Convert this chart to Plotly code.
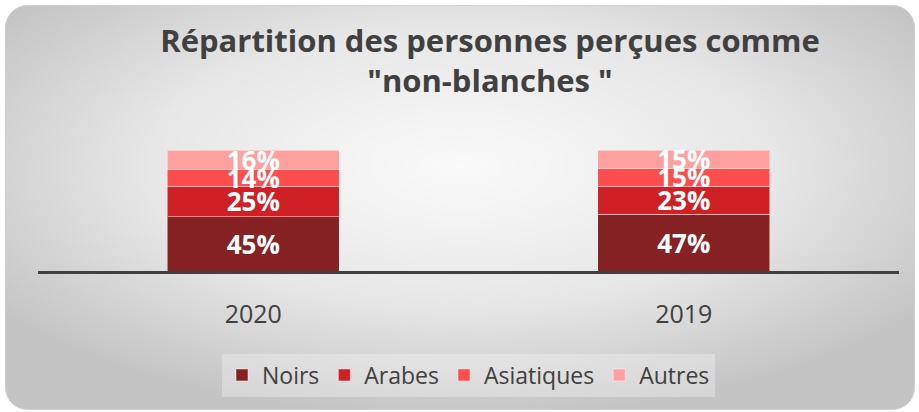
import base64
import plotly.graph_objects as go

categories = ["2020", "2019"]
series_names = ["Noirs", "Arabes", "Asiatiques", "Autres"]
noirs = [45, 47]
arabes = [25, 23]
asiatiques = [14, 15]
autres = [16, 15]
series_values = [noirs, arabes, asiatiques, autres]
colors = ["#862224", "#CF2125", "#FE4D4E", "#FFA0A0"]

W, H = 919, 412
L, R, T, B = 38, 20, 150, 141
pw, ph = W - L - R, H - T - B

svg = f'''<svg xmlns="http://www.w3.org/2000/svg" width="{W}" height="{H}" viewBox="0 0 {W} {H}" preserveAspectRatio="none">
<defs><radialGradient id="g" cx="50%" cy="40%" r="62%" fx="50%" fy="40%">
<stop offset="0%" stop-color="#FAFAFA"/><stop offset="55%" stop-color="#E7E7E7"/><stop offset="100%" stop-color="#C4C4C4"/>
</radialGradient></defs>
<rect x="5.5" y="5.5" width="909" height="404" rx="22" ry="22" fill="url(#g)" stroke="#D0D0D0" stroke-width="1"/>
</svg>'''
src = "data:image/svg+xml;base64," + base64.b64encode(svg.encode()).decode()

fig = go.Figure()
for name, vals, col in zip(series_names, series_values, colors):
    fig.add_trace(go.Bar(
        x=categories, y=vals, name=name,
        marker=dict(color=col, line=dict(color="rgba(255,255,255,0.45)", width=1)),
        text=[f"{v}%" for v in vals],
        textposition="inside", insidetextanchor="middle", textangle=0,
        constraintext="none",
        textfont=dict(family="Open Sans", size=26, color="white", weight="bold"),
        hoverinfo="skip",
    ))

fig.update_layout(
    barmode="stack",
    bargap=0.6,
    width=W, height=H,
    margin=dict(l=L, r=R, t=T, b=B, pad=0),
    paper_bgcolor="white",
    plot_bgcolor="rgba(0,0,0,0)",
    title=dict(
        text="Répartition des personnes perçues comme<br>\"non-blanches \"",
        x=490 / W, xref="container", xanchor="center",
        y=1 - 52 / H, yref="container", yanchor="top",
        font=dict(family="Open Sans", size=31, color="#404040", weight="bold"),
    ),
    showlegend=True,
    legend=dict(
        orientation="h", x=0.5, xanchor="center", xref="paper",
        y=-(375 - 271) / ph, yanchor="middle",
        bgcolor="rgba(255,255,255,0.3)",
        font=dict(family="Open Sans", size=23, color="#404040"),
        traceorder="normal", itemclick=False,
    ),
    images=[dict(
        source=src, xref="paper", yref="paper",
        x=-L / pw, y=1 + T / ph, sizex=W / pw, sizey=H / ph,
        xanchor="left", yanchor="top", sizing="stretch", layer="below",
    )],
)
fig.update_xaxes(
    showline=True, linecolor="#404040", linewidth=3,
    ticks="outside", ticklen=19, tickcolor="rgba(0,0,0,0)",
    tickfont=dict(family="Open Sans", size=25, color="#404040"),
    showgrid=False, zeroline=False,
)
fig.update_yaxes(range=[0, 100], visible=False, showgrid=False)

fig.write_html("out.html", config={"displayModeBar": False},
               post_script="document.body.style.margin='0';")
